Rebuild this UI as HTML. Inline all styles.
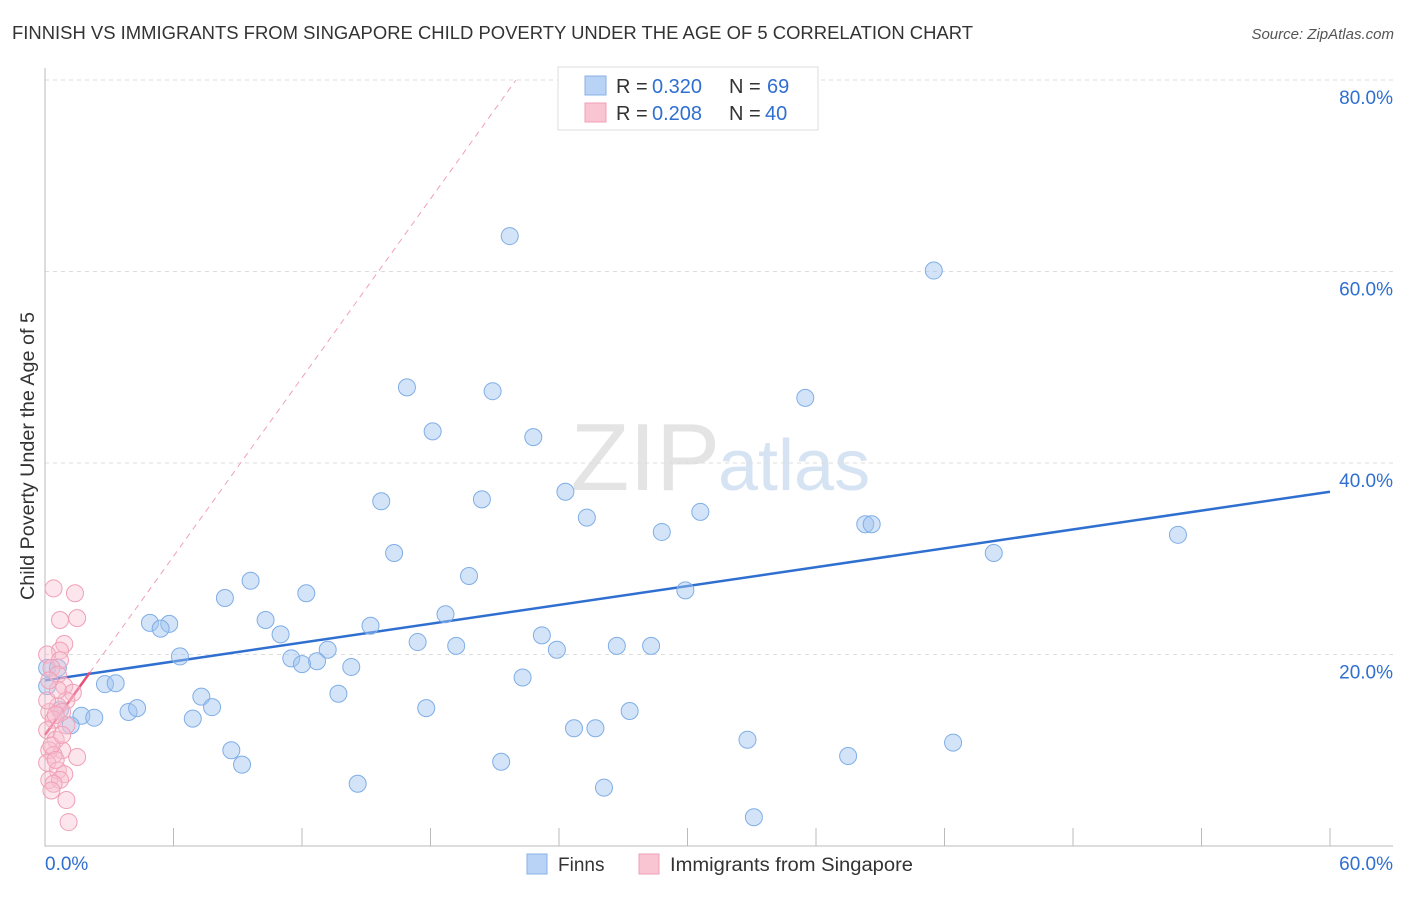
<!DOCTYPE html>
<html><head><meta charset="utf-8"><style>
body{margin:0;background:#fff;font-family:"Liberation Sans",sans-serif;}
svg text{font-family:"Liberation Sans",sans-serif;}
</style></head><body>
<svg id="chart" width="1406" height="892">
<text x="12" y="39" font-size="18" fill="#333" textLength="961" lengthAdjust="spacingAndGlyphs">FINNISH VS IMMIGRANTS FROM SINGAPORE CHILD POVERTY UNDER THE AGE OF 5 CORRELATION CHART</text>
<text x="1394" y="39" font-size="15" fill="#555" font-style="italic" text-anchor="end">Source: ZipAtlas.com</text>
<text x="720" y="490" font-size="96" fill="#e4e4e4" font-family="Liberation Serif" text-anchor="end">ZIP</text>
<text x="718" y="490" font-size="72" fill="#d6e3f3">atlas</text>
<text transform="translate(34,456) rotate(-90)" font-size="19" fill="#333" text-anchor="middle" textLength="288" lengthAdjust="spacingAndGlyphs">Child Poverty Under the Age of 5</text>
<g id="grid"></g><g id="axes"></g><g id="lines"></g><g id="pts"></g>
<g>
<rect x="558" y="67" width="260" height="63" fill="#fff" stroke="#ddd"/>
<rect x="585" y="76" width="21" height="19" fill="#b8d3f5" stroke="#8ab2e6"/>
<rect x="585" y="103" width="21" height="19" fill="#f9c5d3" stroke="#f0a0b6"/>
<text x="616" y="93" font-size="20" fill="#333">R = </text>
<text x="652" y="93" font-size="20" fill="#2f6fd0">0.320</text>
<text x="729" y="93" font-size="20" fill="#333">N = </text>
<text x="767" y="93" font-size="20" fill="#2f6fd0">69</text>
<text x="616" y="120" font-size="20" fill="#333">R = </text>
<text x="652" y="120" font-size="20" fill="#2f6fd0">0.208</text>
<text x="729" y="120" font-size="20" fill="#333">N = </text>
<text x="765" y="120" font-size="20" fill="#2f6fd0">40</text>
</g>
<g>
<rect x="527" y="854" width="20" height="20" fill="#b8d3f5" stroke="#8ab2e6"/>
<text x="558" y="871" font-size="19" fill="#333">Finns</text>
<rect x="639" y="854" width="20" height="20" fill="#f9c5d3" stroke="#f0a0b6"/>
<text x="670" y="871" font-size="19" fill="#333" textLength="243" lengthAdjust="spacingAndGlyphs">Immigrants from Singapore</text>
</g>
</svg>
<script>
const finnsX=[21.7,41.5,16.9,20.9,35.5,18.1,22.8,15.7,20.4,24.3,25.3,30.6,28.8,38.3,38.6,16.3,44.3,52.9,19.8,29.9,9.6,8.4,12.2,18.7,10.3,4.9,5.8,5.4,11.0,15.2,23.2,17.4,19.2,23.9,26.7,28.3,13.2,6.3,11.5,12.7,12.0,14.3,22.3,2.8,3.3,0.1,7.3,13.7,7.8,3.9,4.3,17.8,27.3,1.7,2.3,6.9,1.2,24.7,25.7,32.8,42.4,8.7,9.2,21.3,37.5,14.6,26.1,33.1,0.1,0.6,0.7];
const finnsY=[63.7,60.1,47.9,47.5,46.8,43.3,42.7,36.0,36.2,37.0,34.3,34.9,32.8,33.6,33.6,30.6,30.6,32.5,28.2,26.7,27.7,25.9,26.4,24.2,23.6,23.3,23.2,22.7,22.1,23.0,22.0,21.3,20.9,20.5,20.9,20.9,20.5,19.8,19.6,19.3,19.0,18.7,17.6,16.9,17.0,16.7,15.6,15.9,14.5,14.0,14.4,14.4,14.1,13.6,13.4,13.3,12.6,12.3,12.3,11.1,10.8,10.0,8.5,8.8,9.4,6.5,6.1,3.0,18.6,18.6,14.2];
const singX=[0.4,1.4,0.7,1.5,0.9,0.7,0.1,0.7,0.3,0.6,0.9,1.3,1.0,0.6,0.2,0.8,0.4,1.0,0.1,0.5,0.8,0.2,1.5,0.4,0.1,0.6,0.9,0.2,0.7,0.4,1.0,1.1,0.1,0.5,0.3,0.6,0.2,0.8,0.5,0.3];
const singY=[26.9,26.4,23.6,23.8,21.1,20.4,20.0,19.4,18.6,17.9,16.7,16.0,15.2,14.6,14.0,14.0,13.2,12.6,12.1,11.1,10.0,10.0,9.3,9.5,8.7,7.9,7.5,6.9,6.9,6.5,4.8,2.5,15.2,13.7,10.5,16.3,17.3,11.6,9.0,5.8];
const finnsTrend=[17.3,37.0];      // y at x=0 and x=60
const singTrend=[11.6,3.11];       // intercept, slope
const yTicks=[20,40,60,80];
const xTicks=[0,6,12,18,24,30,36,42,48,54,60];
const X=v=>45+v*1285/60, Y=v=>846-v*9.575;
const NS='http://www.w3.org/2000/svg';
function mk(tag,attrs,parent){const e=document.createElementNS(NS,tag);for(const k in attrs)e.setAttribute(k,attrs[k]);document.getElementById(parent).appendChild(e);return e;}
yTicks.forEach(t=>{
 const l=mk('line',{x1:45,x2:1393,y1:Y(t),y2:Y(t),stroke:'#ddd','stroke-dasharray':'4,4'},'grid');
 
 
 const tx=mk('text',{x:1393,y:Y(t)+24,'font-size':19,fill:'#2f6fd0','text-anchor':'end'},'grid');
 tx.textContent=t.toFixed(1)+'%';
 
 
});
const ax=mk('path',{d:`M45,68V846H1393`,stroke:'#bbb',fill:'none'},'axes');


xTicks.forEach(t=>{
 const l=mk('line',{x1:X(t),x2:X(t),y1:828,y2:846,stroke:'#bbb'},'axes');
 
 
});
[[0,'start'],[60,'end']].forEach(([t,a])=>{
 const tx=mk('text',{x:t?1393:45,y:870,'font-size':19,fill:'#2f6fd0','text-anchor':a},'axes');
 tx.textContent=t.toFixed(1)+'%';
 
 
});
const bl=mk('line',{x1:X(0),y1:Y(finnsTrend[0]),x2:X(60),y2:Y(finnsTrend[1]),stroke:'#2f6fd0','stroke-width':2.5},'lines');


const sEnd=(80-singTrend[0])/singTrend[1];
const pd=mk('line',{x1:X(2.1),y1:Y(singTrend[0]+singTrend[1]*2.1),x2:X(sEnd),y2:Y(80),stroke:'#f0a0b6','stroke-width':1,'stroke-dasharray':'6,5'},'lines');


const pl=mk('line',{x1:X(0),y1:Y(singTrend[0]),x2:X(2.1),y2:Y(singTrend[0]+singTrend[1]*2.1),stroke:'#e8507a','stroke-width':2.5},'lines');


finnsX.forEach((x,i)=>{
 const c=mk('circle',{cx:X(x),cy:Y(finnsY[i]),r:8.5,fill:'rgba(160,196,240,0.45)',stroke:'#7faee6','stroke-width':1},'pts');
 
 
});
singX.forEach((x,i)=>{
 const c=mk('circle',{cx:X(x),cy:Y(singY[i]),r:8.5,fill:'rgba(248,190,208,0.4)',stroke:'#f0a0b6','stroke-width':1},'pts');
 
 
});
</script>
</body></html>
